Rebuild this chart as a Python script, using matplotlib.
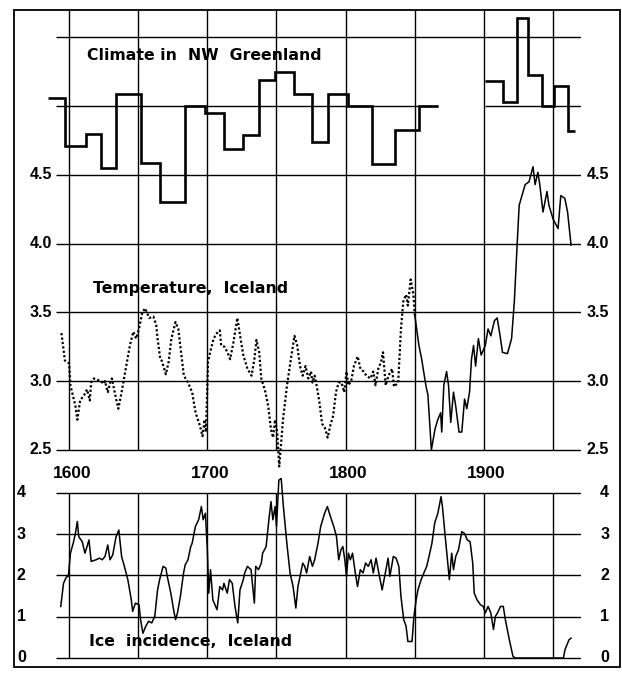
import matplotlib
matplotlib.use("Agg")
import matplotlib.pyplot as plt
from matplotlib.patches import Rectangle

# ---- data ----
# Climate in NW Greenland (step series, departures from the 5.0 reference line)
green_base = 5.0
green_edges_a = [1585, 1597, 1612, 1623, 1634, 1652, 1666, 1684, 1698, 1712, 1726,
                 1737, 1749, 1763, 1776, 1787, 1802, 1819, 1836, 1853, 1867]
green_dev_a = [0.06, -0.29, -0.20, -0.45, 0.09, -0.41, -0.70, 0.0, -0.05, -0.31,
               -0.21, 0.19, 0.25, 0.09, -0.26, 0.09, 0.0, -0.42, -0.17, 0.0]
green_edges_b = [1901, 1914, 1924, 1932, 1942, 1951, 1961, 1966]
green_dev_b = [0.18, 0.03, 0.64, 0.23, 0.0, 0.15, -0.18]

# Temperature, Iceland (dotted before 1850, solid after)
temp_years = [1594.5, 1597, 1600, 1601, 1604.6, 1606, 1608, 1611, 1613, 1615, 1616, 1618,
              1623, 1625, 1626, 1628, 1630, 1631, 1633, 1635.6, 1638, 1641, 1644, 1646.5,
              1648.5, 1650.5, 1653, 1655, 1658, 1661, 1663, 1664, 1666, 1667, 1670, 1672,
              1674, 1677, 1679, 1681, 1683, 1686, 1689, 1691.5, 1694.5, 1696.5, 1698, 1699,
              1700.5, 1702, 1704.5, 1707, 1709, 1710, 1712.5, 1714.5, 1716.5, 1719, 1721.7,
              1724, 1726, 1729, 1732, 1734, 1735.5, 1737.5, 1739, 1742, 1744, 1746, 1747.5,
              1749, 1750.5, 1752, 1754.7, 1757.6, 1760.4, 1763, 1765, 1767, 1769, 1771,
              1773, 1775, 1776, 1777.6, 1779, 1781, 1783, 1785, 1787, 1789, 1791, 1793,
              1795, 1797, 1799, 1800.6, 1802, 1804, 1806, 1808.7, 1810.7, 1813, 1815, 1818,
              1820, 1821.6, 1823.6, 1825.6, 1827, 1829, 1831, 1833.6, 1835, 1838, 1840,
              1841.7, 1843.7, 1845, 1847, 1849, 1850,
              1853, 1855, 1858, 1859.5, 1862, 1864.6, 1866.6, 1868.7, 1869.5, 1871, 1873,
              1874.4, 1876, 1878, 1879.6, 1882, 1884, 1886, 1887.6, 1889.6, 1891, 1892.5,
              1894, 1896, 1898, 1901, 1903, 1905, 1907.6, 1909.6, 1911.7, 1913.4, 1917,
              1920, 1922, 1924, 1925.5, 1929.8, 1932.6, 1935.5, 1937, 1939, 1940.4, 1942.7,
              1945.6, 1947, 1950, 1953.6, 1955.6, 1958.5, 1960.5, 1963]
temp_values = [3.35, 3.15, 3.13, 2.97, 2.82, 2.72, 2.86, 2.90, 2.94, 2.86, 2.99, 3.02,
               3.00, 2.98, 3.00, 2.92, 3.00, 3.02, 2.92, 2.80, 2.92, 3.09, 3.26, 3.36,
               3.31, 3.38, 3.50, 3.53, 3.46, 3.47, 3.41, 3.31, 3.16, 3.15, 3.05, 3.14,
               3.31, 3.43, 3.38, 3.21, 3.04, 2.99, 2.92, 2.77, 2.68, 2.60, 2.72, 2.63,
               3.14, 3.21, 3.31, 3.35, 3.37, 3.26, 3.25, 3.21, 3.16, 3.29, 3.46,
               3.31, 3.19, 3.09, 3.04, 3.16, 3.30, 3.21, 3.02, 2.92, 2.82, 2.65, 2.59,
               2.72, 2.63, 2.38, 2.72, 2.97, 3.16, 3.33, 3.26, 3.11, 3.04, 3.11,
               3.02, 3.07, 2.99, 3.04, 2.97, 2.85, 2.69, 2.66, 2.59, 2.68, 2.75, 2.92,
               2.99, 2.99, 2.92, 3.07, 2.97, 3.00, 3.11, 3.18, 3.09, 3.07, 3.04, 3.02,
               3.07, 2.97, 3.09, 3.14, 3.21, 2.97, 3.04, 3.09, 2.96, 2.99, 3.38,
               3.58, 3.63, 3.55, 3.74, 3.63, 3.48,
               3.26, 3.16, 2.97, 2.90, 2.50, 2.65, 2.72, 2.77, 2.63, 2.97, 3.07,
               2.97, 2.70, 2.92, 2.82, 2.63, 2.63, 2.87, 2.80, 2.92, 3.16, 3.26,
               3.11, 3.31, 3.19, 3.26, 3.38, 3.33, 3.44, 3.46, 3.33, 3.21, 3.20,
               3.31, 3.58, 3.99, 4.28, 4.43, 4.45, 4.56, 4.43, 4.52, 4.43, 4.23,
               4.38, 4.28, 4.18, 4.11, 4.35, 4.33, 4.23, 3.99]
temp_split_year = 1850

# Ice incidence, Iceland
ice_years = [1594, 1596, 1598, 1599.5, 1601, 1603, 1604.6, 1606, 1607, 1609.5, 1611.5, 1613,
             1614.4, 1616, 1619.5, 1622, 1624, 1626, 1628, 1629.6, 1631.6, 1634, 1636, 1638,
             1640, 1642.5, 1645, 1646, 1648, 1650.6, 1651.7, 1653.4, 1655.5, 1657.5, 1659.8,
             1662, 1664, 1665.5, 1668, 1670, 1671, 1673.6, 1675.6, 1677, 1678.4, 1680.5,
             1682.8, 1684, 1686, 1688, 1689, 1691.4, 1693.7, 1695.7, 1697, 1698.6, 1700,
             1701, 1702.3, 1704, 1707, 1709, 1711, 1712, 1714.4, 1716, 1718, 1720, 1722,
             1723.6, 1726, 1727, 1729, 1731.6, 1734, 1735, 1737, 1739, 1740, 1742.5, 1744.5,
             1746, 1747.4, 1749, 1750, 1751.7, 1753.4, 1755, 1757.5, 1759.8, 1762, 1764,
             1765.5, 1767.5, 1769, 1770.4, 1771.8, 1774, 1776, 1777.6, 1780, 1782, 1784.8,
             1786.8, 1789, 1791.4, 1793.4, 1795, 1796.6, 1798, 1799.4, 1800.6, 1802, 1803.4,
             1805, 1807, 1808.6, 1810.6, 1812.6, 1814.4, 1816.4, 1818.4, 1820, 1822, 1824,
             1826.4, 1828.7, 1830.7, 1832, 1834.5, 1836.5, 1838.5, 1840, 1842, 1843.7, 1845,
             1848, 1849.4, 1851, 1852.3, 1854.6, 1856.6, 1858.6, 1860.3, 1862.4, 1864.4,
             1866.7, 1869, 1870, 1871.8, 1873.9, 1875, 1876.7, 1878, 1879.6, 1881.6, 1884,
             1886, 1888, 1890, 1891.9, 1893, 1895, 1897.5, 1899.5, 1901, 1903, 1905, 1906.9,
             1908.3, 1909.8, 1912, 1914, 1915.5, 1918.4, 1921, 1922.6, 1957.5, 1958.6,
             1961.5, 1963]
ice_values = [1.25, 1.81, 1.96, 1.98, 2.54, 2.78, 3.02, 3.31, 2.94, 2.82, 2.54, 2.70,
              2.86, 2.34, 2.38, 2.42, 2.38, 2.46, 2.74, 2.38, 2.50, 2.94, 3.10, 2.46,
              2.22, 1.90, 1.41, 1.13, 1.33, 1.29, 0.93, 0.60, 0.77, 0.89, 0.85,
              1.01, 1.65, 1.90, 2.22, 2.18, 1.98, 1.57, 1.17, 0.93, 1.09, 1.49,
              2.06, 2.26, 2.38, 2.70, 2.78, 3.19, 3.35, 3.67, 3.35, 3.51, 2.62,
              1.57, 2.14, 1.41, 1.17, 1.73, 1.65, 1.81, 1.57, 1.90, 1.81, 1.25, 0.85,
              1.65, 1.90, 2.06, 2.22, 2.14, 1.33, 2.22, 2.14, 2.30, 2.54, 2.70, 3.35,
              3.79, 3.35, 3.67, 3.19, 4.31, 4.35, 3.67, 2.78, 2.06, 1.73, 1.21,
              1.73, 2.06, 2.30, 2.22, 2.06, 2.46, 2.22, 2.38, 2.78, 3.19, 3.51,
              3.67, 3.43, 3.19, 2.94, 2.38, 2.62, 2.70, 2.38, 1.98, 2.54, 2.38,
              2.54, 2.06, 1.73, 2.14, 2.06, 2.30, 2.22, 2.38, 2.06, 2.42, 2.06,
              1.65, 2.06, 2.42, 1.98, 2.46, 2.42, 2.22, 1.49, 0.93, 0.77, 0.40,
              0.40, 1.01, 1.41, 1.65, 1.90, 2.06, 2.22, 2.46, 2.78, 3.27,
              3.51, 3.91, 3.67, 3.02, 2.30, 1.90, 2.54, 2.14, 2.46, 2.62, 3.06,
              3.02, 2.86, 2.82, 2.30, 1.57, 1.41, 1.29, 1.25, 1.09, 1.25, 1.09, 0.69,
              1.01, 1.09, 1.25, 1.25, 0.93, 0.44, 0.04, 0.0, 0.0, 0.2,
              0.44, 0.48]

upper_ticks = [2.5, 3.0, 3.5, 4.0, 4.5]
lower_ticks = [0, 1, 2, 3, 4]
decades = [1600, 1650, 1700, 1750, 1800, 1850, 1900, 1950]
year_labels = [1600, 1700, 1800, 1900]

# ---- layout in figure pixels ----
W, H = 622, 675
fig = plt.figure(figsize=(W / 100, H / 100), dpi=100)
x0, x1 = 55.5, 581
ax_up = fig.add_axes([x0 / W, 1 - 470 / H, (x1 - x0) / W, 460 / H])
ax_lo = fig.add_axes([x0 / W, 1 - 665 / H, (x1 - x0) / W, 203 / H])
xlim = (1590.2, 1970.2)
for ax in (ax_up, ax_lo):
    ax.set_xlim(*xlim)
    ax.axis("off")
    ax.patch.set_alpha(0)
ax_up.set_ylim(2.354, 5.70)
ax_lo.set_ylim(-0.17, 4.75)

num_font = dict(family="Liberation Sans", fontweight="bold", fontsize=11.5)
lab_font = dict(family=["Liberation Sans Narrow", "DejaVu Sans"], fontweight="bold", fontsize=11.3)

# upper grid
grid_kw = dict(color="black", lw=1.0)
ax_up.hlines(upper_ticks, *xlim, **grid_kw)
ax_up.hlines(5.5, *xlim, **grid_kw)
ax_up.hlines(green_base, xlim[0], green_edges_a[-1], **grid_kw)
ax_up.hlines(green_base, green_edges_b[0], xlim[1], **grid_kw)
ax_up.vlines(decades, 2.5, 5.70, **grid_kw)
for v in upper_ticks:
    ax_up.text(-0.006, v, f"{v:.1f}", transform=ax_up.get_yaxis_transform(),
               ha="right", va="center", **num_font)
    ax_up.text(1.011, v, f"{v:.1f}", transform=ax_up.get_yaxis_transform(),
               ha="left", va="center", **num_font)

# Greenland steps
ax_up.stairs([green_base + d for d in green_dev_a], green_edges_a, baseline=None,
             color="black", lw=1.9, clip_on=False)
ax_up.stairs([green_base + d for d in green_dev_b], green_edges_b, baseline=None,
             color="black", lw=1.9, clip_on=False)

# temperature
k = temp_years.index(temp_split_year)
ax_up.plot(temp_years[:k + 1], temp_values[:k + 1], color="black", lw=1.6,
           linestyle=(0, (1, 1.0)), clip_on=False)
ax_up.plot(temp_years[k:], temp_values[k:], color="black", lw=1.1, clip_on=False)

# lower grid
ax_lo.hlines(lower_ticks, *xlim, **grid_kw)
ax_lo.vlines(decades, 0, 4, **grid_kw)
for v in lower_ticks:
    ax_lo.text(-0.065, v, f"{v}", transform=ax_lo.get_yaxis_transform(),
               ha="center", va="center", **num_font)
    ax_lo.text(1.045, v, f"{v}", transform=ax_lo.get_yaxis_transform(),
               ha="center", va="center", **num_font)
ax_lo.plot(ice_years, ice_values, color="black", lw=1.1, clip_on=False)

# year labels between the panels
for yr in year_labels:
    ax_lo.text(yr + 2, 4.48, str(yr), ha="center", va="center",
               family="Liberation Sans", fontweight="bold", fontsize=12.5)

# series titles
fig.text(87 / W, 1 - 55 / H, "Climate in  NW  Greenland", ha="left", va="center", **lab_font)
fig.text(93 / W, 1 - 289 / H, "Temperature,  Iceland", ha="left", va="center", **lab_font)
fig.text(89 / W, 1 - 642 / H, "Ice  incidence,  Iceland", ha="left", va="center", **lab_font)

# outer frame
fig.add_artist(Rectangle((14 / W, 1 - 667 / H), 606 / W, 657 / H, transform=fig.transFigure,
                         fill=False, edgecolor="black", lw=1.3))

fig.savefig("out.png", dpi=100)
